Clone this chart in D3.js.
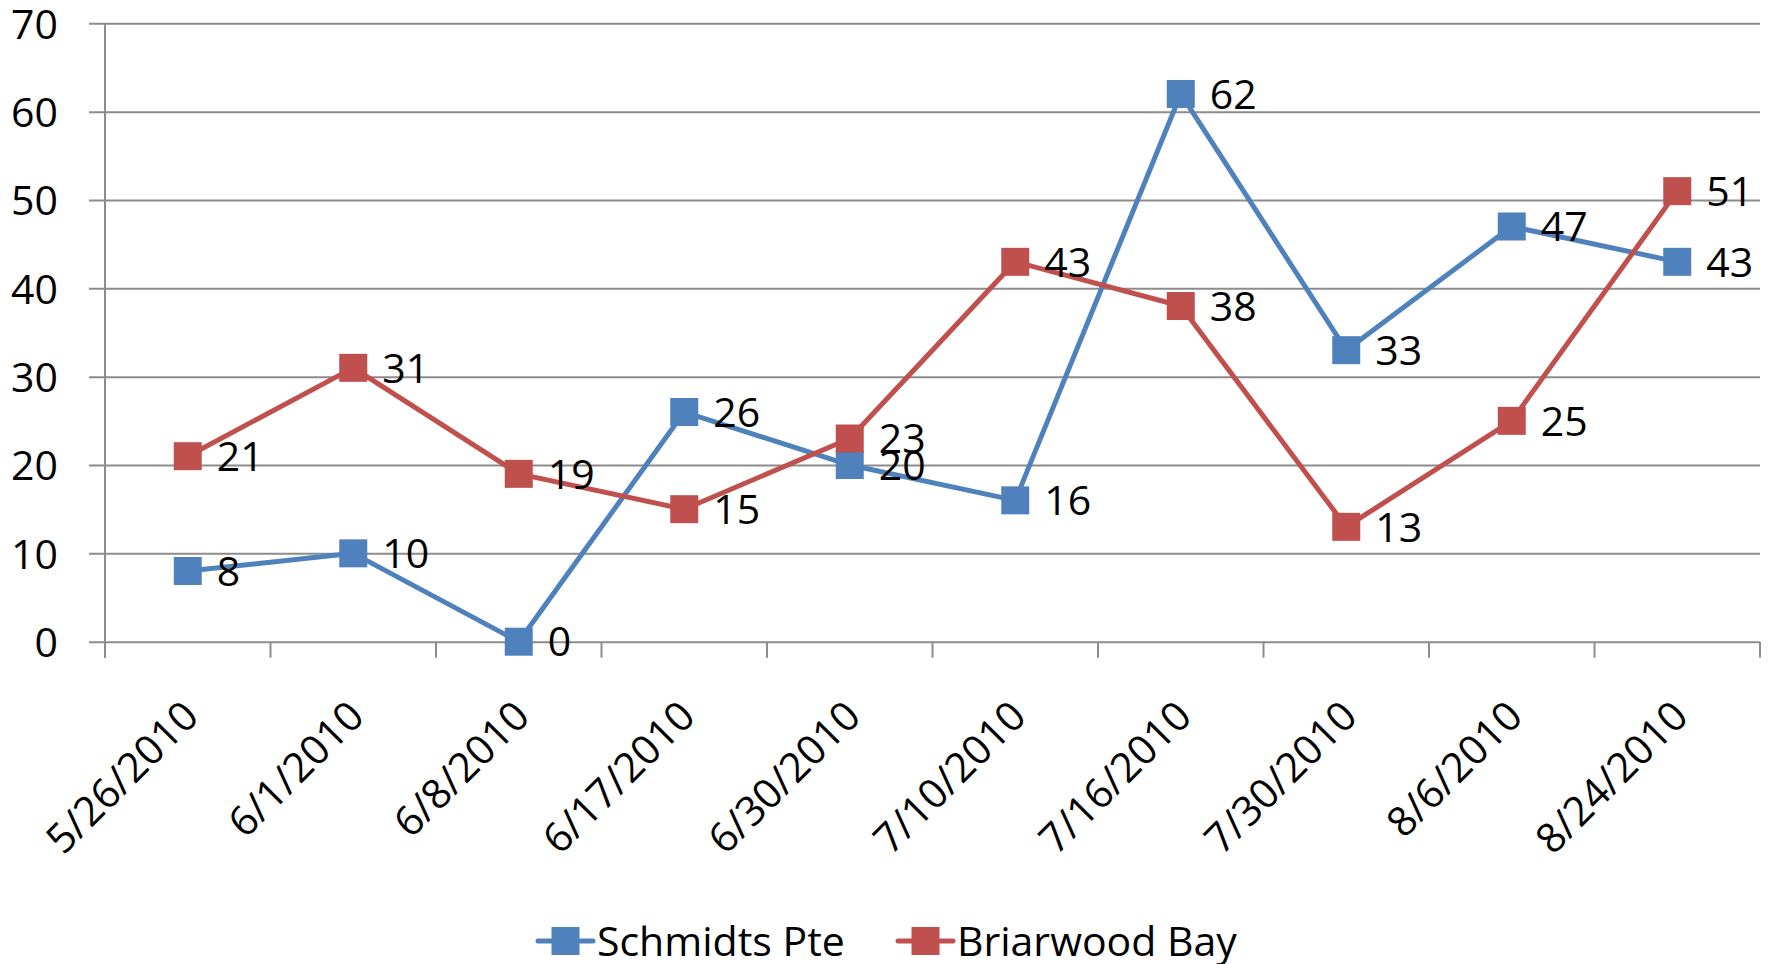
<!DOCTYPE html>
<html>
<head>
<meta charset="utf-8">
<script src="https://cdn.jsdelivr.net/npm/d3@7"></script>
<style>
  html, body { margin: 0; padding: 0; background: #fff; }
  svg { display: block; font-family: "Open Sans", "DejaVu Sans", sans-serif; }
</style>
</head>
<body>
<svg id="chart" width="1771" height="964"></svg>
<script>
// Sampling dates and counts for each site
const dates = ["5/26/2010", "6/1/2010", "6/8/2010", "6/17/2010", "6/30/2010",
               "7/10/2010", "7/16/2010", "7/30/2010", "8/6/2010", "8/24/2010"];
const schmidtsPte = [8, 10, 0, 26, 20, 16, 62, 33, 47, 43];
const briarwoodBay = [21, 31, 19, 15, 23, 43, 38, 13, 25, 51];
const yTicks = [0, 10, 20, 30, 40, 50, 60, 70];

const series = [
  { name: "Schmidts Pte", values: schmidtsPte, color: "#4F81BD" },
  { name: "Briarwood Bay", values: briarwoodBay, color: "#C0504D" }
];

const svg = d3.select("#chart");
const plot = { left: 105, right: 1760, top: 23.3, bottom: 641.7 };
const gridColor = "#8c8c8c";
const fontSize = 41;

const x = d3.scaleBand().domain(dates).range([plot.left, plot.right]);
const y = d3.scaleLinear().domain([0, 70]).range([plot.bottom, plot.top]);

// Horizontal gridlines and value axis labels
const yAxis = d3.axisLeft(y).tickValues(yTicks).tickSize(-(plot.right - plot.left)).tickSizeOuter(0).tickPadding(47);
const gy = svg.append("g").attr("transform", `translate(${plot.left},0)`).call(yAxis);
gy.select(".domain").remove();
gy.selectAll(".tick line").attr("stroke", gridColor).attr("stroke-width", 2).attr("x1", -16);
gy.selectAll(".tick text").attr("font-size", fontSize).attr("fill", "#000")
  .attr("font-family", "'Open Sans', sans-serif").attr("dy", "0.36em");

// Vertical axis line
svg.append("line")
  .attr("x1", plot.left).attr("x2", plot.left)
  .attr("y1", plot.top).attr("y2", plot.bottom + 16)
  .attr("stroke", gridColor).attr("stroke-width", 2);

// Category tick marks at band boundaries
const boundaries = dates.map(d => x(d)).concat([x(dates[dates.length - 1]) + x.bandwidth()]);
svg.append("g").selectAll("line").data(boundaries).join("line")
  .attr("x1", d => d).attr("x2", d => d)
  .attr("y1", plot.bottom).attr("y2", plot.bottom + 16)
  .attr("stroke", gridColor).attr("stroke-width", 2);

// Rotated category labels
svg.append("g").selectAll("text").data(dates).join("text")
  .attr("transform", d => `translate(${x(d) + x.bandwidth() / 2 + 13},${plot.bottom + 77}) rotate(-45)`)
  .attr("text-anchor", "end")
  .attr("font-size", fontSize)
  .attr("fill", "#000")
  .text(d => d);

const cx = i => x(dates[i]) + x.bandwidth() / 2;
const line = d3.line().x((d, i) => cx(i)).y(d => y(d));
const markerSize = 28;

// Lines and markers, one series after the other
series.forEach(s => {
  const g = svg.append("g");
  g.append("path").datum(s.values)
    .attr("d", line)
    .attr("fill", "none")
    .attr("stroke", s.color)
    .attr("stroke-width", 5)
    .attr("stroke-linejoin", "round");
  g.selectAll("rect").data(s.values).join("rect")
    .attr("x", (d, i) => cx(i) - markerSize / 2)
    .attr("y", d => y(d) - markerSize / 2)
    .attr("width", markerSize).attr("height", markerSize)
    .attr("fill", s.color);
});

// Value labels to the right of each marker
series.forEach(s => {
  svg.append("g").selectAll("text").data(s.values).join("text")
    .attr("x", (d, i) => cx(i) + 29)
    .attr("y", d => y(d))
    .attr("dy", "0.36em")
    .attr("font-size", fontSize)
    .attr("fill", "#000")
    .text(d => d);
});

// Legend
const legendY = 941;
const legendItems = [
  { s: series[0], x0: 538 },
  { s: series[1], x0: 898 }
];
legendItems.forEach(({ s, x0 }) => {
  const g = svg.append("g");
  g.append("line")
    .attr("x1", x0).attr("x2", x0 + 55)
    .attr("y1", legendY).attr("y2", legendY)
    .attr("stroke", s.color).attr("stroke-width", 5).attr("stroke-linecap", "round");
  g.append("rect")
    .attr("x", x0 + 27.5 - markerSize / 2).attr("y", legendY - markerSize / 2)
    .attr("width", markerSize).attr("height", markerSize)
    .attr("fill", s.color);
  g.append("text")
    .attr("x", x0 + 59).attr("y", legendY).attr("dy", "0.36em")
    .attr("font-size", fontSize).attr("fill", "#000")
    .text(s.name);
});
</script>
</body>
</html>
